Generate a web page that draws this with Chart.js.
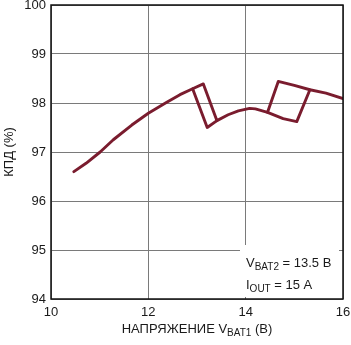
<!DOCTYPE html>
<html>
<head>
<meta charset="utf-8">
<script src="https://cdn.jsdelivr.net/npm/chart.js@4.4.1/dist/chart.umd.min.js"></script>
<style>
  html, body { margin: 0; padding: 0; background: #fff; }
  #wrap { width: 351px; height: 345px; }
</style>
</head>
<body>
<div id="wrap"><canvas id="effChart" width="351" height="345"></canvas></div>
<script>
// main sweep
const mainX = [10.47, 10.72, 11.01, 11.28, 11.66, 12.0, 12.37, 12.65, 12.91, 13.13, 13.41, 13.64, 13.85, 14.08, 14.20, 14.45, 14.67, 15.0, 15.32, 15.65, 16.0];
const mainY = [96.60, 96.77, 97.0, 97.25, 97.55, 97.79, 98.01, 98.17, 98.29, 98.39, 97.64, 97.76, 97.84, 97.89, 97.88, 97.81, 98.44, 98.36, 98.27, 98.20, 98.09];
// return legs of the two loops
const loop1X = [12.91, 13.21, 13.41];
const loop1Y = [98.29, 97.50, 97.64];
const loop2X = [14.45, 14.77, 15.05, 15.32];
const loop2Y = [97.81, 97.68, 97.62, 98.27];

const xTicks = [10, 12, 14, 16];
const yTicks = [94, 95, 96, 97, 98, 99, 100];

const lineColor = '#7a1c2e';
const fontFamily = '"Liberation Sans", Arial, sans-serif';

function toPoints(xs, ys) {
    return xs.map((x, i) => ({ x: x, y: ys[i] }));
}

function lineSet(xs, ys) {
    return {
        data: toPoints(xs, ys),
        showLine: true,
        borderColor: lineColor,
        borderWidth: 2.9,
        pointRadius: 0,
        tension: 0,
        borderJoinStyle: 'round',
        borderCapStyle: 'round'
    };
}

const overlay = {
    id: 'overlay',
    afterDatasetsDraw(chart) {
        const ctx = chart.ctx;
        const a = chart.chartArea;
        ctx.save();

        // white box behind the note
        ctx.fillStyle = '#fff';
        ctx.fillRect(240, 245, 99, 52);

        // frame
        ctx.strokeStyle = '#111';
        ctx.lineWidth = 1.5;
        ctx.strokeRect(a.left, a.top, a.right - a.left, a.bottom - a.top);

        ctx.fillStyle = '#1a1a1a';
        ctx.textBaseline = 'alphabetic';
        ctx.textAlign = 'left';

        // note
        let x = 246;
        ctx.font = '13px ' + fontFamily;
        ctx.fillText('V', x, 267);
        x += ctx.measureText('V').width;
        ctx.font = '10px ' + fontFamily;
        ctx.fillText('BAT2', x, 270);
        x += ctx.measureText('BAT2').width;
        ctx.font = '13px ' + fontFamily;
        ctx.fillText(' = 13.5 В', x, 267);

        x = 246;
        ctx.fillText('I', x, 289);
        x += ctx.measureText('I').width;
        ctx.font = '10px ' + fontFamily;
        ctx.fillText('OUT', x, 292);
        x += ctx.measureText('OUT').width;
        ctx.font = '13px ' + fontFamily;
        ctx.fillText(' = 15 A', x, 289);

        // x title with subscript
        const parts = [
            ['НАПРЯЖЕНИЕ V', 13, 0],
            ['BAT1', 10, 3],
            [' (В)', 13, 0]
        ];
        let total = 0;
        parts.forEach(p => {
            ctx.font = p[1] + 'px ' + fontFamily;
            total += ctx.measureText(p[0]).width;
        });
        x = (a.left + a.right) / 2 - total / 2;
        parts.forEach(p => {
            ctx.font = p[1] + 'px ' + fontFamily;
            ctx.fillText(p[0], x, 333 + p[2]);
            x += ctx.measureText(p[0]).width;
        });

        // y title
        ctx.translate(9, (a.top + a.bottom) / 2);
        ctx.rotate(-Math.PI / 2);
        ctx.font = '13px ' + fontFamily;
        ctx.textAlign = 'center';
        ctx.textBaseline = 'middle';
        ctx.fillText('КПД (%)', 0, 0);

        ctx.restore();
    }
};

document.addEventListener('DOMContentLoaded', () => {
    new Chart(document.getElementById('effChart'), {
        type: 'scatter',
        data: {
            datasets: [
                lineSet(mainX, mainY),
                lineSet(loop1X, loop1Y),
                lineSet(loop2X, loop2Y)
            ]
        },
        options: {
            responsive: false,
            animation: false,
            layout: { padding: { top: 5, right: 8, left: 0, bottom: 0 } },
            plugins: {
                legend: { display: false },
                tooltip: { enabled: false }
            },
            scales: {
                x: {
                    type: 'linear',
                    min: 10,
                    max: 16,
                    afterBuildTicks: scale => { scale.ticks = xTicks.map(v => ({ value: v })); },
                    afterFit: scale => {
                        scale.height = 46;
                        scale.paddingLeft = 0;
                        scale.paddingRight = 0;
                    },
                    border: { display: false },
                    grid: { color: '#7a7a7a', lineWidth: 1, drawTicks: false },
                    ticks: {
                        padding: 6,
                        color: '#1a1a1a',
                        font: { family: fontFamily, size: 13 },
                        maxRotation: 0,
                        autoSkip: false
                    }
                },
                y: {
                    type: 'linear',
                    min: 94,
                    max: 100,
                    afterBuildTicks: scale => { scale.ticks = yTicks.map(v => ({ value: v })); },
                    afterFit: scale => {
                        scale.width = 51;
                        scale.paddingTop = 0;
                        scale.paddingBottom = 0;
                    },
                    border: { display: false },
                    grid: { color: '#7a7a7a', lineWidth: 1, drawTicks: false },
                    ticks: {
                        padding: 5,
                        color: '#1a1a1a',
                        font: { family: fontFamily, size: 13 },
                        autoSkip: false
                    }
                }
            }
        },
        plugins: [overlay]
    });
});
</script>
</body>
</html>
